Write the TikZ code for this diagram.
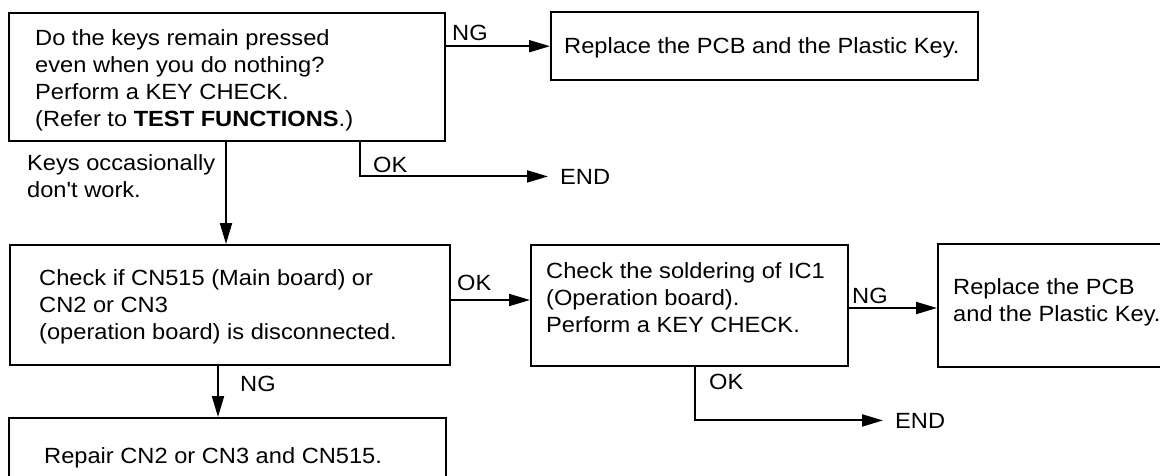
\documentclass[tikz,border=0pt]{standalone}
\usepackage{fontspec}
\setmainfont{Liberation Sans}[FakeStretch=1.075,Ligatures=TeXOff]
\usetikzlibrary{arrows.meta}
\newcommand\mlines[1]{\begin{tabular}[t]{@{}l@{}}#1\end{tabular}}
\begin{document}
\begin{tikzpicture}[x=1pt,y=-1pt,
  font=\fontsize{22}{27}\selectfont,
  box/.style={draw, line width=2.4pt, anchor=north west, inner ysep=0pt},
  lbl/.style={anchor=base west, inner sep=0pt},
  arr/.style={line width=2pt, -{Triangle[length=21pt,width=12pt]}}]
\useasboundingbox (0,0) rectangle (1160,475);
% boxes
\node[box, inner xsep=26pt, text height=32pt, text depth=96pt] (b1) at (8,12)
  {\makebox[384pt][l]{\mlines{Do the keys remain pressed\\even when you do nothing?\\Perform a KEY CHECK.\\(Refer to \textbf{TEST FUNCTIONS}.)}}};
\node[box, inner xsep=13pt, text height=41pt, text depth=27pt] (b2) at (550,11)
  {\makebox[401pt][l]{Replace the PCB and the Plastic Key.}};
\node[box, inner xsep=29pt, text height=40pt, text depth=80pt] (b3) at (9,244)
  {\makebox[382pt][l]{\mlines{Check if CN515 (Main board) or\\CN2 or CN3\\(operation board) is disconnected.}}};
\node[box, inner xsep=15pt, text height=33pt, text depth=88pt] (ic) at (530,244)
  {\makebox[287pt][l]{\mlines{Check the soldering of IC1\\(Operation board).\\Perform a KEY CHECK.}}};
\node[box, inner xsep=15pt, text height=50pt, text depth=73pt] (b5) at (937,243)
  {\makebox[263pt][l]{\mlines{Replace the PCB\\and the Plastic Key.}}};
\node[box, inner xsep=35pt, text height=45pt, text depth=45pt] (rp) at (8,417)
  {\makebox[367pt][l]{Repair CN2 or CN3 and CN515.}};
% labels
\node[lbl] (ng1) at (452,40) {NG};
\node[lbl] (ok1) at (373,172) {OK};
\node[lbl] (keys) at (27,170) {\mlines{Keys occasionally\\don't work.}};
\node[lbl, inner xsep=12pt] (end1) at (548,184) {END};
\node[lbl] (ok2) at (457,290) {OK};
\node[lbl] (ng2) at (852,303) {NG};
\node[lbl] (ok3) at (709,389) {OK};
\node[lbl, inner xsep=12pt] (end2) at (883,428) {END};
\node[lbl] (ng3) at (240,391) {NG};
% guide coordinates
\coordinate (c1) at (226,0);
\coordinate (c2) at (360,0);
\coordinate (c3) at (0,300);
\coordinate (c4) at (0,308);
\coordinate (c5) at (695,0);
\coordinate (c6) at (218,0);
% connectors
\draw[arr] (b1.east |- b2.west) -- (b2.west);
\draw[arr] (b1.south -| c1) -- (b3.north -| c1);
\draw[arr] (b1.south -| c2) |- (end1.west);
\draw[arr] (b3.east |- c3) -- (ic.west |- c3);
\draw[arr] (ic.east |- c4) -- (b5.west |- c4);
\draw[arr] (ic.south -| c5) |- (end2.west);
\draw[arr] (b3.south -| c6) -- (rp.north -| c6);
\end{tikzpicture}
\end{document}
